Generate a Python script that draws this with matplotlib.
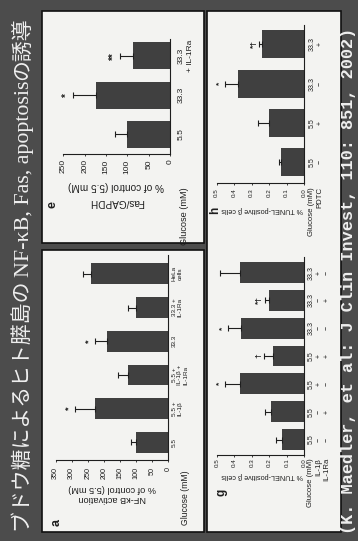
import matplotlib
matplotlib.use("Agg")
import matplotlib.pyplot as plt
from matplotlib.transforms import Affine2D
from matplotlib.patches import Rectangle

W, H = 358, 541
DPI = 100

SANS = ["Liberation Sans", "DejaVu Sans"]
SERIF = ["Liberation Serif", "DejaVu Serif"]
MONO_SERIF = ["Liberation Mono", "DejaVu Serif"]
CJK = ["Noto Sans CJK JP", "DejaVu Sans"]

BG = "#4c4c4c"
PANEL = "#f3f3f1"
BAR = "#404040"
INK = "#1e1e1e"
LIGHT = "#efefef"

# ---- slide title and citation ----
title_parts = ["ブドウ糖によるヒト膵島の ", "NF-κB, Fas, apoptosis", "の誘導"]
title_fonts = [CJK, SERIF, CJK]
citation = "(K. Maedler, et al: J Clin Invest, 110: 851, 2002)"

# ---- a: NF-κB activation ----
a_labels = ["5.5", "5.5 +\nIL-1β", "5.5 +\nIL-1β +\nIL-1Ra", "33.3", "33.3 +\nIL-1Ra", "HeLa\ncells"]
a_values = [100, 227, 124, 191, 100, 240]
a_errors = [15, 62, 31, 37, 24, 24]
a_marks = ["", "*", "", "*", "", ""]
a_ticks = [0, 50, 100, 150, 200, 250, 300, 350]
a_ylabel = ["NF-κB activation", "% of control (5.5 mM)"]

# ---- e: Fas/GAPDH ----
e_labels = ["5.5", "33.3", "33.3\n+ IL-1Ra"]
e_values = [100, 173, 87]
e_errors = [30, 54, 30]
e_marks = ["", "*", "**"]
e_ticks = [0, 50, 100, 150, 200, 250]
e_ylabel = ["Fas/GAPDH", "% of control (5.5 mM)"]

# ---- g: TUNEL, IL-1β / IL-1Ra ----
g_glucose = ["5.5", "5.5", "5.5", "5.5", "33.3", "33.3", "33.3"]
g_il1b = ["−", "−", "+", "+", "−", "−", "+"]
g_il1ra = ["−", "+", "−", "+", "−", "+", "−"]
g_values = [0.13, 0.19, 0.37, 0.18, 0.36, 0.20, 0.37]
g_errors = [0.03, 0.035, 0.085, 0.05, 0.075, 0.025, 0.11]
g_marks = ["", "", "*", "†", "*", "*†", ""]
g_rows = ["Glucose (mM)", "IL-1β", "IL-1Ra"]

# ---- h: TUNEL, PDTC ----
h_glucose = ["5.5", "5.5", "33.3", "33.3"]
h_pdtc = ["−", "+", "−", "+"]
h_values = [0.13, 0.20, 0.38, 0.24]
h_errors = [0.015, 0.065, 0.07, 0.015]
h_marks = ["", "", "*", "*†"]
h_rows = ["Glucose (mM)", "PDTC"]

tunel_ticks = [0.0, 0.1, 0.2, 0.3, 0.4, 0.5]
tunel_ylabel = "% TUNEL-positive β cells"

fig = plt.figure(figsize=(W / DPI, H / DPI), dpi=DPI, facecolor=BG)
# pixel coordinates measured from the top-left corner
px = Affine2D().scale(1 / W, -1 / H).translate(0, 1) + fig.transFigure
PT = 72 / DPI  # points per pixel


def panel_box(x0, y0, x1, y1):
    fig.patches.append(Rectangle((x0, y0), x1 - x0, y1 - y0, transform=px,
                                 facecolor=PANEL, edgecolor="#111111", lw=1.2,
                                 zorder=-5))


def make_axes(x0, y0, x1, y1):
    ax = fig.add_axes([x0 / W, 1 - y1 / H, (x1 - x0) / W, (y1 - y0) / H])
    ax.patch.set_visible(False)
    ax.set_zorder(2)
    return ax


def bar_panel(ax, values, errors, marks, ticks, vmax, ylim, height,
              tick_fs, tick_fmt, tick_pad, mark_fs):
    pos = list(range(len(values)))
    ax.barh(pos, values, height=height, color=BAR,
            xerr=[[0] * len(values), errors],
            error_kw=dict(ecolor=INK, elinewidth=0.8, capsize=2.2, capthick=0.8))
    ax.set_xlim(vmax, 0)
    ax.set_ylim(*ylim)
    for s in ("top", "left"):
        ax.spines[s].set_visible(False)
    for s in ("right", "bottom"):
        ax.spines[s].set_linewidth(0.8)
        ax.spines[s].set_color(INK)
    ax.set_xticks(ticks)
    ax.set_xticklabels([tick_fmt.format(t) for t in ticks], rotation=90,
                       fontsize=tick_fs, family=SANS, color=INK)
    ax.tick_params(axis="x", direction="out", length=1.6, width=0.6,
                   pad=tick_pad, color=INK)
    ax.set_yticks([])
    for p, v, e, m in zip(pos, values, errors, marks):
        if m:
            ax.annotate(m, xy=(v + e, p), xytext=(-1.2, 0), textcoords="offset points",
                        rotation=90, ha="right", va="center", fontsize=mark_fs,
                        family=SANS, color=INK, fontweight="bold")
    return pos


def category_rows(ax, rows, dx_px, pitch_px, fs):
    # rows: list of per-row label lists (row 0 next to the baseline)
    for k, row in enumerate(rows):
        for p, lab in enumerate(row):
            if lab:
                ax.annotate(lab, xy=(0, p), xytext=((dx_px + k * pitch_px) * PT, 0),
                            textcoords="offset points", rotation=90, ha="left",
                            va="center", fontsize=fs, family=SANS, color=INK)


def row_headers(ax, names, dx_px, pitch_px, dy_px, fs):
    for k, name in enumerate(names):
        ax.annotate(name, xy=(1, 0), xycoords="axes fraction",
                    xytext=((dx_px + k * pitch_px) * PT, -dy_px * PT),
                    textcoords="offset points", rotation=90, ha="left", va="top",
                    fontsize=fs, family=SANS, color=INK)


def split_lines(labels):
    parts = [lab.split("\n") for lab in labels]
    n = max(len(p) for p in parts)
    return [[p[k] if k < len(p) else "" for p in parts] for k in range(n)]


# ---- white panels ----
panel_box(42, 11, 204, 243)
panel_box(42, 250, 204, 532)
panel_box(207, 11, 341, 532)

# ---- panel a ----
ax_a = make_axes(55.6, 255, 168.3, 460)
bar_panel(ax_a, a_values, a_errors, a_marks, a_ticks, 350, (-0.52, 5.56), 0.62,
          5.2, "{:d}", 3.2, 6.5)
category_rows(ax_a, split_lines(a_labels), 3.5, 5.6, 4.6)
row_headers(ax_a, ["Glucose (mM)"], 12.5, 0, 10, 6.2)
for txt, yy in zip(a_ylabel, [498, 488]):
    fig.text(112, yy, txt, transform=px, rotation=180, ha="center", va="center",
             fontsize=6.6, family=SANS, color=INK)
fig.text(57, 522, "a", transform=px, rotation=90, ha="center", va="center",
         fontsize=9, fontweight="bold", family=SANS, color=INK)

# ---- panel e ----
ax_e = make_axes(63.3, 39, 170, 154)
bar_panel(ax_e, e_values, e_errors, e_marks, e_ticks, 250, (-0.5, 2.43), 0.69,
          6.0, "{:d}", 2.2, 7)
category_rows(ax_e, split_lines(e_labels), 8, 8.5, 6.0)
row_headers(ax_e, ["Glucose (mM)"], 10, 0, 33, 6.6)
for txt, yy in zip(e_ylabel, [202, 186]):
    fig.text(116.5, yy, txt, transform=px, rotation=180, ha="center", va="center",
             fontsize=7.2, family=SANS, color=INK)
fig.text(53, 205, "e", transform=px, rotation=90, ha="center", va="center",
         fontsize=9, fontweight="bold", family=SANS, color=INK)

# ---- panel h ----
ax_h = make_axes(216.5, 25, 304, 183)
bar_panel(ax_h, h_values, h_errors, h_marks, tunel_ticks, 0.5, (-0.53, 3.49), 0.71,
          4.5, "{:.1f}", 2.0, 6)
category_rows(ax_h, [h_glucose, h_pdtc], 5, 8, 5.0)
row_headers(ax_h, h_rows, 4, 8, 4, 5.6)
fig.text(262, 210, tunel_ylabel, transform=px, rotation=180, ha="center", va="center",
         fontsize=5.2, family=SANS, color=INK)
fig.text(215, 210, "h", transform=px, rotation=90, ha="center", va="center",
         fontsize=8.5, fontweight="bold", family=SANS, color=INK)

# ---- panel g ----
ax_g = make_axes(216.8, 257, 304.3, 455)
bar_panel(ax_g, g_values, g_errors, g_marks, tunel_ticks, 0.5, (-0.557, 6.56), 0.75,
          4.5, "{:.1f}", 1.0, 6)
category_rows(ax_g, [g_glucose, g_il1b, g_il1ra], 3, 8, 5.0)
row_headers(ax_g, g_rows, 3, 8, 3, 5.6)
fig.text(262, 476, tunel_ylabel, transform=px, rotation=180, ha="center", va="center",
         fontsize=5.2, family=SANS, color=INK)
fig.text(221, 492, "g", transform=px, rotation=90, ha="center", va="center",
         fontsize=8.5, fontweight="bold", family=SANS, color=INK)

# ---- vertical slide title, laid out piece by piece ----
renderer = fig.canvas.get_renderer()
y_start = 532
for part, fam in zip(title_parts, title_fonts):
    size = 15.0 if fam is CJK else 15.8
    t = fig.text(29, y_start, part, transform=px, rotation=90, rotation_mode="anchor",
                 ha="left", va="baseline", fontsize=size, family=fam, color=LIGHT)
    bb = t.get_window_extent(renderer)
    y_start = H - bb.y1

fig.text(349, 534, citation, transform=px, rotation=90, rotation_mode="anchor",
         ha="left", va="center", fontsize=12.2, family=MONO_SERIF,
         fontweight="bold", color=LIGHT)

fig.savefig("out.png", dpi=DPI, facecolor=BG)
